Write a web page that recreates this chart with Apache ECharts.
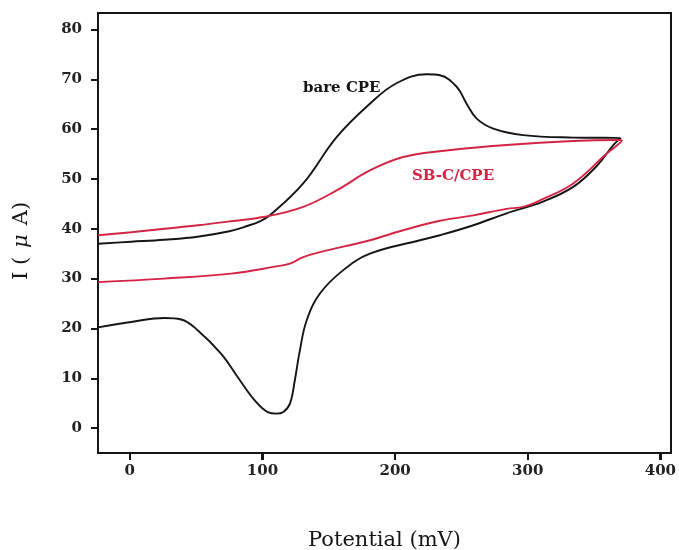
<!DOCTYPE html>
<html>
<head>
<meta charset="utf-8">
<script src="https://cdn.jsdelivr.net/npm/echarts@6/dist/echarts.min.js"></script>
<style>html,body{margin:0;padding:0;background:#fff;}#c{width:679px;height:550px;}</style>
</head>
<body>
<div id="c"></div>
<script>
// bare CPE cyclic voltammogram (forward scan then reverse scan)
const bareX = [-24, 1, 26, 51, 75, 89, 98, 105.6, 130.7, 155.9, 181, 201, 223.8, 233.8, 246.4, 253.9, 261.5, 274, 296.6, 334.3, 370,
  364.5, 352, 334.3, 311, 284, 259, 233.8, 218.7, 181, 160.9, 143.3, 133.3, 128.2, 124.4, 120.7, 116, 110.6, 104, 94, 81.4, 68.9, 51.3, 38.7, 26.2, 1, -24];
const bareY = [37.0, 37.4, 37.8, 38.4, 39.5, 40.6, 41.5, 42.7, 49.1, 58.4, 65.1, 69.2, 71.0, 70.8, 68.5, 65.1, 62.1, 60.1, 58.8, 58.3, 58.2,
  56.8, 52.6, 48.4, 45.4, 43.1, 40.7, 38.7, 37.7, 35.0, 31.7, 27.0, 21.6, 15.6, 9.6, 4.9, 3.3, 2.9, 3.2, 5.6, 10.2, 14.9, 19.6, 21.8, 22.1, 21.3, 20.2];

// SB-C/CPE cyclic voltammogram
const sbcX = [-24, 1, 26, 51.3, 76, 101.6, 130.7, 155.9, 181, 206.1, 238.8, 284, 334.3, 367, 371,
  359.5, 334.3, 309.2, 296.6, 284, 259, 233.8, 206, 181, 143.3, 130.7, 120.7, 111.6, 76.4, 26.2, -24];
const sbcY = [38.7, 39.3, 40.0, 40.7, 41.5, 42.4, 44.4, 47.7, 51.7, 54.4, 55.7, 56.8, 57.6, 57.8, 57.7,
  55.1, 49.1, 45.7, 44.4, 44.0, 42.7, 41.6, 39.7, 37.7, 35.3, 34.3, 33.0, 32.5, 31.0, 30.0, 29.3];

const xTicks = [0, 100, 200, 300, 400];
const yTicks = [0, 10, 20, 30, 40, 50, 60, 70, 80];
const seriesNames = ['bare CPE', 'SB-C/CPE'];
const xRange = [-24, 408];
const yRange = [-5, 83.3];

const BLACK = '#151515';
const RED = '#d42443';
const FONT = 'DejaVu Serif';

const chart = echarts.init(document.getElementById('c'), null, {renderer: 'canvas'});
chart.setOption({
  backgroundColor: '#ffffff',
  animation: false,
  grid: {left: 98, right: 8, top: 13, bottom: 97, outerBoundsMode: 'none', containLabel: false,
    show: true, borderColor: BLACK, borderWidth: 2, backgroundColor: 'transparent'},
  xAxis: {
    type: 'value', min: xRange[0], max: xRange[1],
    name: 'Potential (mV)', nameLocation: 'middle', nameGap: 77,
    nameTextStyle: {fontFamily: FONT, fontSize: 21, color: BLACK},
    axisLine: {show: true, onZero: false, lineStyle: {color: BLACK, width: 2}},
    axisTick: {show: true, inside: false, length: 7, lineStyle: {color: BLACK, width: 2}, customValues: xTicks},
    axisLabel: {margin: 11, fontFamily: FONT, fontSize: 15, fontWeight: 'bold', color: '#222', customValues: xTicks},
    splitLine: {show: false}
  },
  yAxis: {
    type: 'value', min: yRange[0], max: yRange[1],
    name: '{a|I (}{m|μ}{a|A)}', nameLocation: 'middle', nameGap: 66,
    nameTextStyle: {fontFamily: FONT, fontSize: 21, color: BLACK, padding: [0, 16, 0, 0],
      rich: {a: {fontFamily: FONT, fontSize: 21, color: BLACK}, m: {fontFamily: FONT, fontSize: 21, fontStyle: 'italic', color: BLACK, padding: [0, 9, 0, 9]}}},
    axisLine: {show: true, onZero: false, lineStyle: {color: BLACK, width: 2}},
    axisTick: {show: true, inside: false, length: 7, lineStyle: {color: BLACK, width: 2}, customValues: yTicks},
    axisLabel: {margin: 16, fontFamily: FONT, fontSize: 15, fontWeight: 'bold', color: '#222', customValues: yTicks},
    splitLine: {show: false}
  },
  series: [
    {name: seriesNames[0], type: 'line', showSymbol: false, smooth: 0.4, clip: true,
      lineStyle: {color: BLACK, width: 1.9}, itemStyle: {color: BLACK},
      data: bareX.map((x, i) => [x, bareY[i]])},
    {name: seriesNames[1], type: 'line', showSymbol: false, smooth: 0.4, clip: true,
      lineStyle: {color: RED, width: 1.9}, itemStyle: {color: RED},
      data: sbcX.map((x, i) => [x, sbcY[i]])}
  ],
  graphic: [
    {type: 'text', id: 'lab0', left: 303, top: 81, style: {text: seriesNames[0], fontFamily: FONT, fontSize: 15, fontWeight: 'bold', fill: BLACK}},
    {type: 'text', id: 'lab1', left: 412, top: 169, style: {text: seriesNames[1], fontFamily: FONT, fontSize: 15, fontWeight: 'bold', fill: RED}}
  ]
});

// x-axis tick marks placed through the axis scale
const yBottom = chart.convertToPixel({yAxisIndex: 0}, yRange[0]);
const tickGraphics = xTicks.map((v, i) => {
  const px = Math.round(chart.convertToPixel({xAxisIndex: 0}, v));
  return {type: 'line', id: 'xt' + i, silent: true, z: 100,
    shape: {x1: px, y1: yBottom, x2: px, y2: yBottom + 7},
    style: {stroke: BLACK, lineWidth: 2}};
});
chart.setOption({graphic: tickGraphics});
</script>
</body>
</html>
